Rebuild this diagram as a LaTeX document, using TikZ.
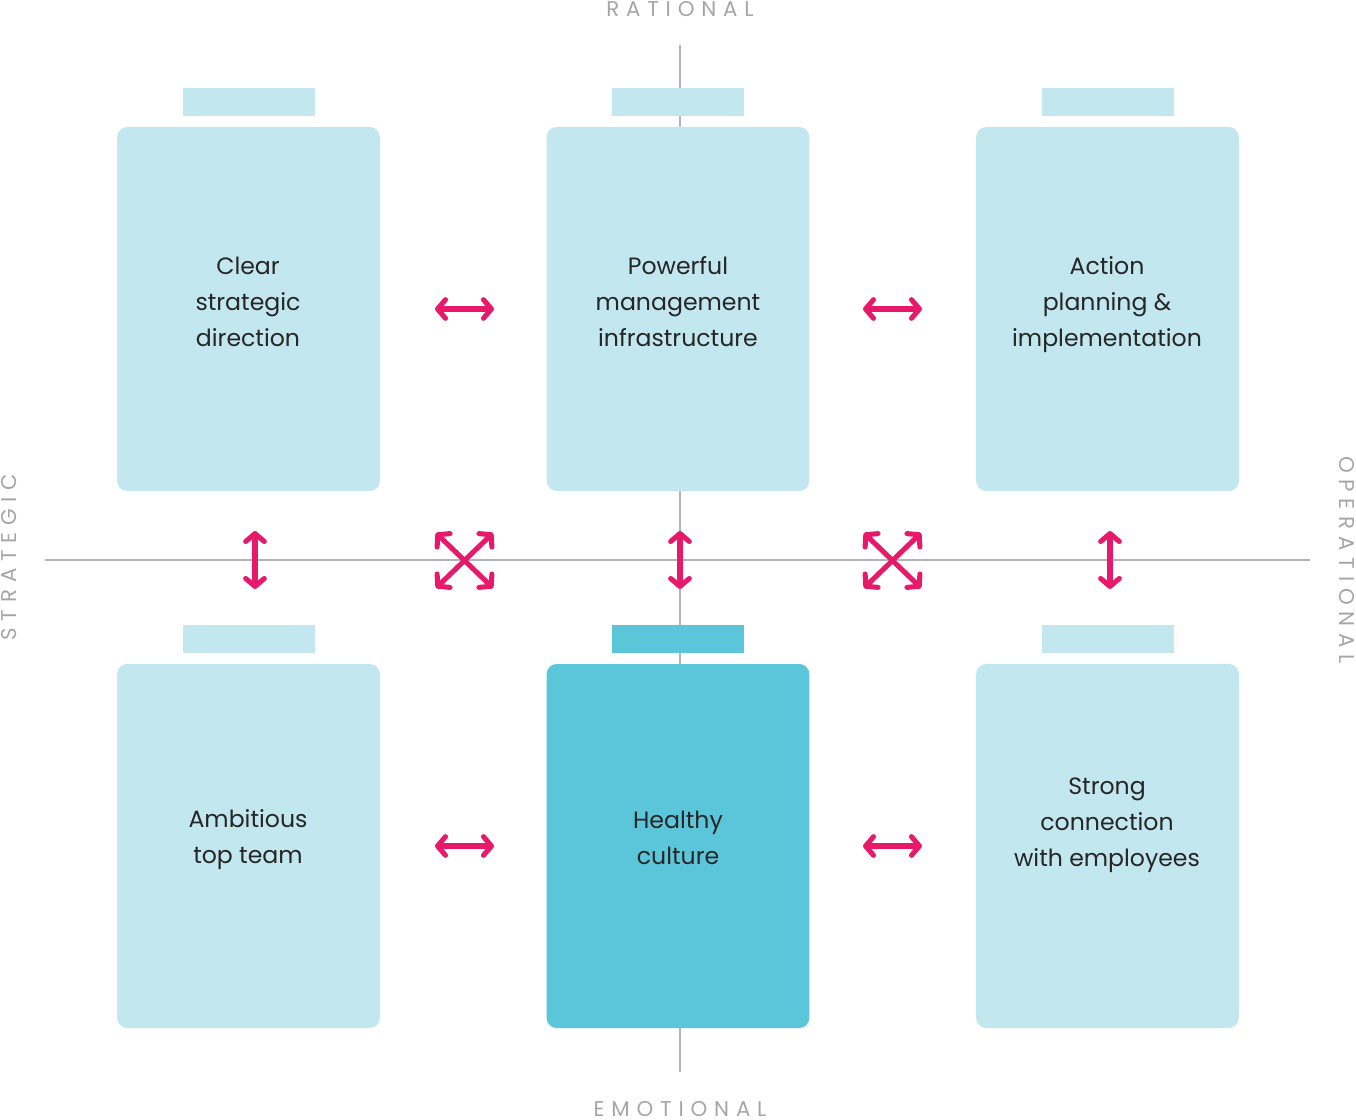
\documentclass[tikz,border=0pt]{standalone}
\usepackage{fontspec}
\setmainfont{Poppins}
\usetikzlibrary{arrows.meta,positioning}

\definecolor{cardlight}{HTML}{C2E7EE}
\definecolor{carddark}{HTML}{5BC6D9}
\definecolor{linkpink}{HTML}{E8196A}
\definecolor{axisgray}{HTML}{B4B4B4}
\definecolor{labelgray}{HTML}{A6A6A6}

\tikzset{
    card/.style={
        fill=cardlight,
        rounded corners=7.5pt,
        minimum width=197pt,
        minimum height=273pt,
        inner sep=0pt,
    },
    cardtab/.style={
        fill=cardlight,
        minimum width=99pt,
        minimum height=21.5pt,
        inner sep=0pt,
    },
    cardtext/.style={
        align=center,
        text=black!85,
        font=\fontsize{17.7}{27}\selectfont,
    },
    axis/.style={
        draw=axisgray,
        line width=1.5pt,
    },
    axislabel/.style={
        text=labelgray,
        inner sep=0pt,
        font=\fontsize{16}{18}\selectfont\addfontfeature{LetterSpace=32},
    },
    link/.style={
        draw=linkpink,
        line width=3.8pt,
        {Straight Barb[round,length=6pt,width=14pt]}-{Straight Barb[round,length=6pt,width=14pt]},
    },
}

\begin{document}
\begin{tikzpicture}[x=0.75pt, y=-0.75pt]

\useasboundingbox (0,0) rectangle (1356,1120);

% Axes
\coordinate (west) at (45,560);
\coordinate (east) at (1310,560);
\coordinate (north) at (680,45);
\coordinate (south) at (680,1072);
\path[axis] (west) -- (east);
\path[axis] (north) -- (south);

% Axis labels
\node[axislabel] (rational) at (680,9) {RATIONAL};
\node[axislabel] (emotional) at (680,1109) {EMOTIONAL};
\node[axislabel, rotate=90] (strategic) at (9,557) {STRATEGIC};
\node[axislabel, rotate=-90] (operational) at (1347,560) {OPERATIONAL};

% Top row
\node[card] (direction) at (248.5,309) {};
\node[card] (infrastructure) at (678,309) {};
\node[card] (planning) at (1107.5,309) {};
\node[cardtab, above=7.5pt of direction] (direction-tab) {};
\node[cardtab, above=7.5pt of infrastructure] (infrastructure-tab) {};
\node[cardtab, above=7.5pt of planning] (planning-tab) {};

% Bottom row
\node[card] (team) at (248.5,846) {};
\node[card, fill=carddark] (culture) at (678,846) {};
\node[card] (employees) at (1107.5,846) {};
\node[cardtab, above=7.5pt of team] (team-tab) {};
\node[cardtab, fill=carddark, above=7.5pt of culture] (culture-tab) {};
\node[cardtab, above=7.5pt of employees] (employees-tab) {};

% Card texts
\node[cardtext] (direction-text) at (248,302) {Clear\\strategic\\direction};
\node[cardtext] (infrastructure-text) at (678,302) {Powerful\\management\\infrastructure};
\node[cardtext] (planning-text) at (1107,305) {Action\\planning \&\\implementation};
\node[cardtext] (team-text) at (248,840) {Ambitious\\top team};
\node[cardtext] (culture-text) at (678,838) {Healthy\\culture};
\node[cardtext] (employees-text) at (1107,825) {Strong\\connection\\with employees};

% Link ends
\coordinate (h1a) at (435,309);
\coordinate (h1b) at (494,309);
\coordinate (h2a) at (863,309);
\coordinate (h2b) at (922,309);
\coordinate (h3a) at (435,846);
\coordinate (h3b) at (494,846);
\coordinate (h4a) at (863,846);
\coordinate (h4b) at (922,846);
\coordinate (v1a) at (255,531);
\coordinate (v1b) at (255,589);
\coordinate (v2a) at (680,531);
\coordinate (v2b) at (680,589);
\coordinate (v3a) at (1110,531);
\coordinate (v3b) at (1110,589);
\coordinate (x1a) at (436,533);
\coordinate (x1b) at (493,588);
\coordinate (x1c) at (436,588);
\coordinate (x1d) at (493,533);
\coordinate (x2a) at (864,533);
\coordinate (x2b) at (921,588);
\coordinate (x2c) at (864,588);
\coordinate (x2d) at (921,533);

% Links
\path[link] (h1a) -- (h1b);
\path[link] (h2a) -- (h2b);
\path[link] (h3a) -- (h3b);
\path[link] (h4a) -- (h4b);
\path[link] (v1a) -- (v1b);
\path[link] (v2a) -- (v2b);
\path[link] (v3a) -- (v3b);
\path[link] (x1a) -- (x1b);
\path[link] (x1c) -- (x1d);
\path[link] (x2a) -- (x2b);
\path[link] (x2c) -- (x2d);

\end{tikzpicture}
\end{document}
